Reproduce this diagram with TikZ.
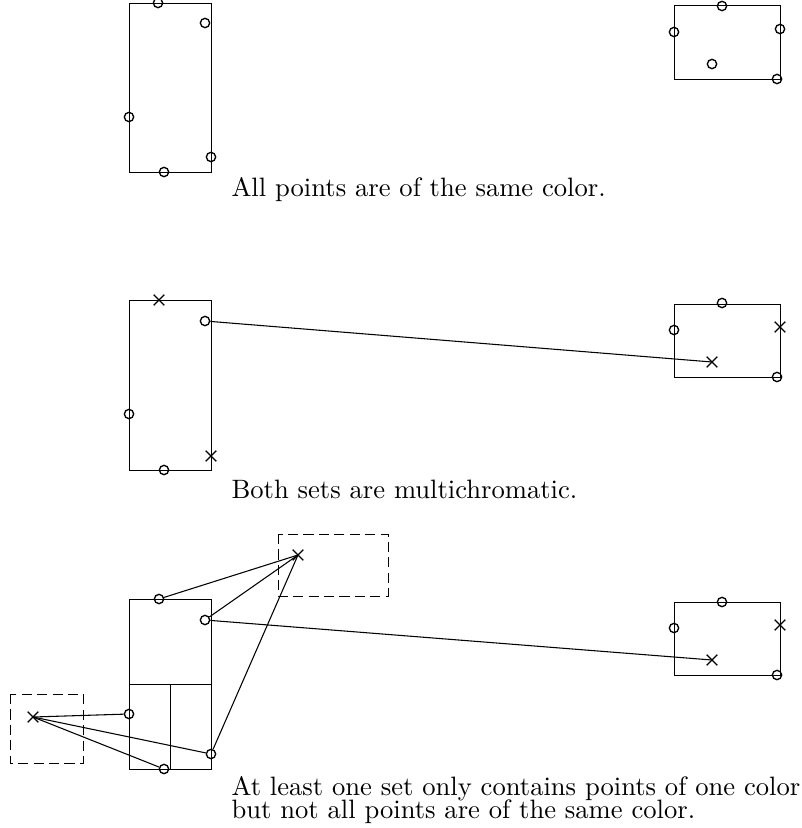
\documentclass[tikz,border=0pt]{standalone}
\usetikzlibrary{shapes.misc}

\newcommand\setcommentstyle{\normalsize}
\newcommand\markersize{3.5pt}

\tikzset{
  pnt/.style={circle, draw, line width=.5pt, inner sep=0pt, minimum size=\markersize},
  crs/.style={cross out, draw, line width=.5pt, inner sep=0pt, minimum size=\markersize},
  setbox/.style={draw, line width=.35pt},
  cellbox/.style={draw, line width=.35pt, dash pattern=on 3.8pt off 2pt},
  caption/.style={anchor=base west, inner sep=0pt, font=\setcommentstyle, align=left}
}

\begin{document}
\begin{tikzpicture}[x=0.376pt, y=-0.376pt]
    \useasboundingbox (0, 0) rectangle (801, 828) ;
    % all points of the same color
    \draw[setbox] (129, 3) rectangle (211, 172) ;
    \draw[setbox] (674, 5) rectangle (780, 79) ;
    \node[pnt] (a1) at (158, 3) {} ;
    \node[pnt] (a2) at (205, 23) {} ;
    \node[pnt] (a3) at (129, 117) {} ;
    \node[pnt] (a4) at (211, 157) {} ;
    \node[pnt] (a5) at (164, 172) {} ;
    \node[pnt] (b1) at (722, 6) {} ;
    \node[pnt] (b2) at (674, 32) {} ;
    \node[pnt] (b3) at (780, 29) {} ;
    \node[pnt] (b4) at (712, 64) {} ;
    \node[pnt] (b5) at (777, 79) {} ;
    \node[caption] (t1) at (231, 196) {All points are of the same color.} ;
    % both sets multichromatic
    \draw[setbox] (129, 300) rectangle (211, 470) ;
    \draw[setbox] (674, 304) rectangle (780, 377) ;
    \node[crs] (c1) at (159, 300) {} ;
    \node[pnt] (c2) at (205, 321) {} ;
    \node[pnt] (c3) at (129, 414) {} ;
    \node[crs] (c4) at (211, 456) {} ;
    \node[pnt] (c5) at (164, 470) {} ;
    \node[pnt] (d1) at (722, 303) {} ;
    \node[pnt] (d2) at (674, 330) {} ;
    \node[crs] (d3) at (780, 327) {} ;
    \node[crs] (d4) at (712, 362) {} ;
    \node[pnt] (d5) at (777, 377) {} ;
    \draw (c2) -- (d4.center) ;
    \node[caption] (t2) at (231, 498) {Both sets are multichromatic.} ;
    % one set monochromatic
    \draw[setbox] (129, 599) rectangle (211, 769) ;
    \draw[setbox] (129, 684) -- (211, 684) ;
    \draw[setbox] (170, 684) -- (170, 769) ;
    \draw[setbox] (674, 602) rectangle (780, 675) ;
    \draw[cellbox] (278, 534) rectangle (388, 596) ;
    \draw[cellbox] (10, 694) rectangle (83, 763) ;
    \node[pnt] (e1) at (159, 599) {} ;
    \node[pnt] (e2) at (205, 620) {} ;
    \node[pnt] (e3) at (129, 714) {} ;
    \node[pnt] (e4) at (211, 754) {} ;
    \node[pnt] (e5) at (164, 769) {} ;
    \node[pnt] (f1) at (722, 602) {} ;
    \node[pnt] (f2) at (674, 628) {} ;
    \node[crs] (f3) at (780, 625) {} ;
    \node[crs] (f4) at (712, 660) {} ;
    \node[pnt] (f5) at (777, 675) {} ;
    \node[crs] (g) at (298, 555) {} ;
    \node[crs] (h) at (33, 717) {} ;
    \draw (e2) -- (f4.center) ;
    \foreach \p in {e1, e2, e4}
      \draw (g.center) -- (\p) ;
    \foreach \p in {e3, e4, e5}
      \draw (h.center) -- (\p) ;
    \node[caption] (t3) at (231, 818) {At least one set only contains points of one color\\[-3.4pt]but not all points are of the same color.} ;
\end{tikzpicture}
\end{document}
